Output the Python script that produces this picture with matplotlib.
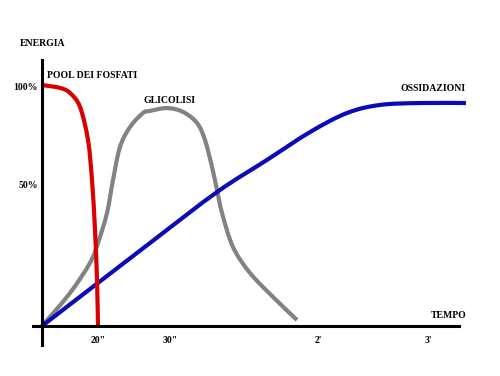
import matplotlib
matplotlib.use("Agg")
import matplotlib.pyplot as plt
from matplotlib.path import Path
from matplotlib.patches import PathPatch

# Data (x: time-axis units, y: energy %)
red_x = [0, 18, 28, 38, 46, 50, 53, 55, 56]
red_y = [100.4, 99.2, 97.1, 91.3, 77.5, 60.8, 40, 19.2, 0]

gray_x = [0, 28, 48, 56, 65, 71, 78, 88, 101, 108, 125, 141, 155, 163, 170, 175, 180, 191, 208, 231, 255]
gray_y = [0, 13.75, 26.3, 34.6, 47.1, 60.8, 74.6, 82.9, 88.75, 89.6, 90.8, 89.2, 84.6, 77.5, 66.25, 56.7, 47.1, 32.9, 22.1, 12.1, 2.5]

blue_x = [0, 108, 175, 225, 268, 305, 338, 378, 424]
blue_y = [0, 34.6, 55.8, 69.2, 80.8, 88.75, 92.1, 92.9, 92.9]

xtick_pos = [56, 128, 276, 386]
xtick_labels = ['20"', '30"', "2'", "3'"]
ytick_pos = [100, 58.75]
ytick_labels = ['100%', '50%']


def smooth_path(xs, ys):
    """Catmull-Rom spline through the points, expressed as cubic Bezier segments."""
    pts = list(zip(xs, ys))
    verts = [pts[0]]
    codes = [Path.MOVETO]
    n = len(pts)
    for i in range(n - 1):
        p0 = pts[i - 1] if i > 0 else pts[i]
        p1 = pts[i]
        p2 = pts[i + 1]
        p3 = pts[i + 2] if i + 2 < n else pts[i + 1]
        c1 = (p1[0] + (p2[0] - p0[0]) / 6, p1[1] + (p2[1] - p0[1]) / 6)
        c2 = (p2[0] - (p3[0] - p1[0]) / 6, p2[1] - (p3[1] - p1[1]) / 6)
        verts += [c1, c2, p2]
        codes += [Path.CURVE4] * 3
    return Path(verts, codes)


W, H = 500, 376
fig = plt.figure(figsize=(W / 100, H / 100), dpi=100)
fig.patch.set_facecolor('white')
left_px, right_px = 33, 472
top_px, bot_px = 55, 345
ax = fig.add_axes([left_px / W, 1 - bot_px / H, (right_px - left_px) / W, (bot_px - top_px) / H])
ax.set_xlim(-9, 430)
ax.set_ylim(-19 / 2.4, (326 - 55) / 2.4)
ax.set_facecolor('none')

font = dict(family='Liberation Serif', weight='bold', color='black')

for xs, ys, col, z in [(blue_x, blue_y, '#0a0ab8', 3),
                       (gray_x, gray_y, '#828282', 2),
                       (red_x, red_y, '#d80000', 4)]:
    ax.add_patch(PathPatch(smooth_path(xs, ys), facecolor='none', edgecolor=col,
                           lw=3.0, joinstyle='round', capstyle='butt', zorder=z))

for s in ['top', 'right']:
    ax.spines[s].set_visible(False)
ax.spines['left'].set_position(('data', 0))
ax.spines['bottom'].set_position(('data', 0))
ax.spines['left'].set_linewidth(2.2)
ax.spines['bottom'].set_linewidth(2.2)
ax.spines['left'].set_bounds(-19 / 2.4, (326 - 60) / 2.4)
ax.spines['bottom'].set_bounds(-9, 417)
ax.spines['left'].set_zorder(5)
ax.spines['bottom'].set_zorder(5)

ax.set_xticks(xtick_pos)
ax.set_xticklabels(xtick_labels, fontdict=dict(fontsize=7, **font))
ax.set_yticks(ytick_pos)
ax.set_yticklabels(ytick_labels, fontdict=dict(fontsize=7, **font))
ax.tick_params(axis='x', length=0, pad=7)
ax.tick_params(axis='y', length=0, pad=3)

ax.text(5, 104.5, 'POOL DEI FOSFATI', fontsize=7, ha='left', va='center', **font)
ax.text(127, 94, 'GLICOLISI', fontsize=7, ha='center', va='center', **font)
ax.text(391, 99, 'OSSIDAZIONI', fontsize=7, ha='center', va='center', **font)
ax.text(407, 4.5, 'TEMPO', fontsize=7, ha='center', va='center', **font)
fig.text(43 / W, 1 - 43 / H, 'ENERGIA', fontsize=7, ha='center', va='center', **font)

fig.savefig('out.png', dpi=100, facecolor='white')
